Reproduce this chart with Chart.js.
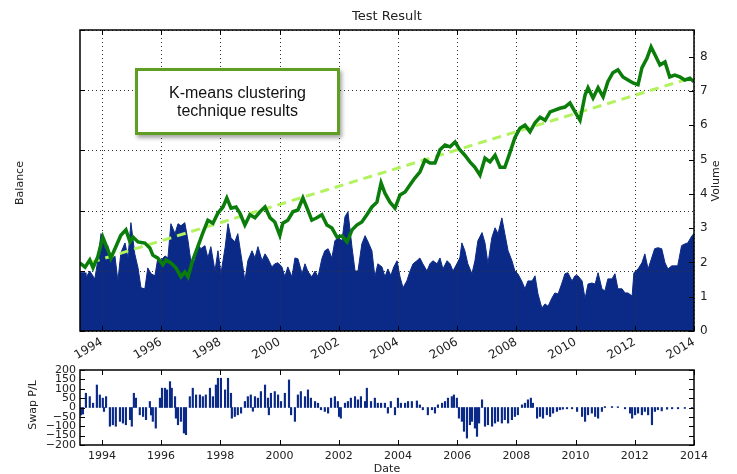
<!DOCTYPE html>
<html>
<head>
<meta charset="utf-8">
<script src="https://cdn.jsdelivr.net/npm/chart.js@4.4.1/dist/chart.umd.min.js"></script>
<style>
  body { margin: 0; background: #fff; overflow: hidden; width: 737px; height: 474px; position: relative; }
  #wrapMain { position: absolute; left: 0; top: 0; width: 737px; height: 360px; }
  #wrapSwap { position: absolute; left: 0; top: 355px; width: 737px; height: 125px; }
  #note {
    position: absolute; left: 135px; top: 68px; width: 199px; height: 61px;
    border: 3px solid #5f9e22; background: #fff;
    box-shadow: 2px 3px 4px rgba(0,0,0,0.35);
    font: 16px "Liberation Sans", Arial, sans-serif; color: #111;
    text-align: center; line-height: 18px;
    display: flex; align-items: center; justify-content: center;
  }
</style>
</head>
<body>
<div id="wrapMain"><canvas id="chartMain" width="737" height="360"></canvas></div>
<div id="wrapSwap"><canvas id="chartSwap" width="737" height="125"></canvas></div>
<div id="note">K-means clustering<br>technique results</div>
<script>
// tick values
const yearTicks = [1994, 1996, 1998, 2000, 2002, 2004, 2006, 2008, 2010, 2012, 2014];
const balanceTicks = [0, 1, 2, 3, 4, 5];
const volumeTicks = [0, 1, 2, 3, 4, 5, 6, 7, 8];
const swapTicks = [-200, -150, -100, -50, 0, 50, 100, 150, 200];

// balance curve (decimal years)
const balanceDates = [1993.26,1993.43,1993.59,1993.70,1993.86,1994.03,1994.20,1994.30,1994.47,1994.64,1994.81,1994.95,
  1995.05,1995.22,1995.45,1995.62,1995.72,1995.89,1996.06,1996.16,1996.33,1996.50,1996.67,1996.80,1996.91,
  1997.07,1997.24,1997.41,1997.58,1997.75,1997.92,1998.09,1998.22,1998.36,1998.53,1998.66,1998.83,
  1999.00,1999.17,1999.34,1999.51,1999.68,1999.84,2000.01,2000.11,2000.28,2000.45,2000.62,2000.79,2000.93,
  2001.09,2001.26,2001.43,2001.60,2001.77,2001.94,2002.11,2002.28,2002.45,2002.61,2002.78,2002.95,
  2003.12,2003.29,2003.43,2003.56,2003.73,2003.90,2004.07,2004.24,2004.41,2004.57,2004.74,2004.91,
  2005.08,2005.25,2005.42,2005.59,2005.76,2005.93,2006.09,2006.26,2006.43,2006.60,2006.77,2006.94,
  2007.11,2007.28,2007.45,2007.61,2007.78,2007.95,2008.12,2008.29,2008.46,2008.63,2008.80,2008.97,
  2009.14,2009.30,2009.47,2009.64,2009.81,2009.98,2010.15,2010.32,2010.42,2010.59,2010.76,2010.93,
  2011.09,2011.26,2011.43,2011.60,2011.77,2011.94,2012.11,2012.24,2012.41,2012.55,2012.69,2012.85,
  2013.02,2013.18,2013.35,2013.52,2013.69,2013.86,2014.00];
const balanceValues = [1.13,1.06,1.18,1.05,1.23,1.56,1.35,1.21,1.40,1.59,1.68,1.48,
  1.56,1.48,1.46,1.38,1.26,1.21,1.10,1.18,1.13,1.05,0.90,0.98,0.90,
  1.18,1.40,1.63,1.84,1.79,1.96,2.06,2.21,2.04,2.06,1.96,1.76,
  1.93,1.88,1.98,2.06,1.88,1.81,1.59,1.79,1.84,1.98,2.01,2.21,2.04,
  1.84,1.88,1.93,1.76,1.71,1.56,1.58,1.48,1.68,1.76,1.81,1.93,
  2.06,2.14,2.46,2.29,2.14,2.04,2.26,2.31,2.43,2.54,2.64,2.84,
  2.79,2.79,3.01,3.09,3.06,3.14,3.01,2.92,2.81,2.72,2.59,2.87,
  2.81,2.92,2.72,2.72,2.96,3.21,3.37,3.42,3.31,3.46,3.55,3.50,
  3.64,3.67,3.70,3.72,3.79,3.64,3.50,3.92,4.04,3.87,4.04,3.89,
  4.14,4.29,4.34,4.22,4.17,4.12,4.09,4.37,4.53,4.72,4.58,4.42,
  4.47,4.22,4.25,4.22,4.17,4.20,4.14];

// linear trend of the balance
const trendDates = [1993.63, 2013.88];
const trendValues = [1.14, 4.20];

// volume (right axis)
const volumeDates = [1993.26,1993.43,1993.46,1993.59,1993.76,1993.86,1993.97,1994.10,1994.20,1994.30,1994.44,1994.54,
  1994.64,1994.78,1994.88,1994.98,1995.11,1995.22,1995.32,1995.45,1995.55,1995.66,1995.79,1995.89,1995.99,
  1996.13,1996.23,1996.33,1996.47,1996.57,1996.67,1996.80,1996.91,1997.01,1997.14,1997.24,1997.34,1997.48,
  1997.58,1997.68,1997.82,1997.92,1998.02,1998.16,1998.26,1998.36,1998.49,1998.59,1998.73,1998.83,1998.93,
  1999.07,1999.17,1999.27,1999.41,1999.51,1999.61,1999.74,1999.84,1999.95,2000.08,2000.18,2000.28,2000.42,
  2000.52,2000.62,2000.76,2000.86,2000.96,2001.09,2001.20,2001.30,2001.43,2001.53,2001.64,2001.77,2001.87,
  2001.97,2002.11,2002.21,2002.31,2002.45,2002.55,2002.65,2002.78,2002.89,2002.99,2003.12,2003.22,2003.32,
  2003.46,2003.56,2003.66,2003.76,2003.86,2003.97,2004.07,2004.17,2004.30,2004.41,2004.51,2004.64,2004.74,
  2004.84,2004.98,2005.08,2005.18,2005.32,2005.42,2005.52,2005.66,2005.76,2005.86,2005.99,2006.09,2006.16,
  2006.26,2006.36,2006.50,2006.60,2006.70,2006.84,2006.94,2007.04,2007.17,2007.28,2007.38,2007.51,2007.61,
  2007.72,2007.85,2007.95,2008.05,2008.18,2008.29,2008.39,2008.53,2008.63,2008.73,2008.86,2008.97,2009.07,
  2009.20,2009.30,2009.41,2009.54,2009.64,2009.74,2009.88,2009.98,2010.08,2010.22,2010.32,2010.42,2010.55,
  2010.66,2010.76,2010.89,2010.99,2011.09,2011.23,2011.33,2011.43,2011.57,2011.67,2011.77,2011.91,2011.97,
  2012.11,2012.24,2012.34,2012.45,2012.57,2012.67,2012.78,2012.91,2013.02,2013.12,2013.25,2013.35,2013.45,
  2013.58,2013.69,2013.79,2013.93,2014.00];
const volumeValues = [1.70,1.70,1.55,1.75,1.52,2.05,2.84,2.43,2.49,2.05,2.19,1.46,
  2.28,2.57,2.13,3.16,2.25,1.84,1.26,1.23,1.84,1.67,1.61,2.13,2.05,
  2.19,2.13,3.13,2.84,3.13,3.07,3.16,2.63,1.99,2.05,2.54,2.40,2.49,
  2.13,2.46,1.75,2.34,1.67,2.43,3.13,2.72,2.60,2.84,2.05,1.46,2.05,
  2.34,2.13,2.46,2.05,2.25,2.11,1.87,1.96,1.99,1.87,1.58,1.87,1.58,
  2.13,2.11,1.67,1.96,1.73,1.58,1.75,1.58,2.11,2.34,2.40,2.13,2.63,
  2.72,2.63,3.33,3.48,2.43,1.75,1.75,2.54,2.78,2.60,2.34,1.58,1.96,
  1.87,1.58,1.81,1.62,1.87,2.05,1.58,1.26,1.46,1.75,1.96,2.05,2.13,
  1.96,1.75,1.96,2.05,1.96,2.13,1.81,2.05,1.96,1.75,1.96,2.13,2.57,
  2.34,1.96,1.67,2.05,2.63,2.87,2.57,1.96,2.72,3.01,2.84,3.30,2.84,
  2.34,2.05,1.75,1.67,1.46,1.23,1.46,1.46,1.61,1.08,0.67,0.79,0.72,
  0.96,1.11,1.08,1.40,1.67,1.70,1.46,1.61,1.61,1.46,0.94,1.37,1.40,
  1.37,1.70,1.23,1.17,1.52,1.52,1.67,1.23,1.23,1.11,1.11,1.02,1.70,
  1.81,1.99,2.25,1.81,2.13,2.40,2.43,2.40,1.99,1.81,1.90,1.90,1.90,
  2.49,2.54,2.57,2.78,2.84];

// swap P/L (lower panel)
const swapDates = [1993.29,1993.36,1993.46,1993.59,1993.70,1993.83,1993.93,1994.03,1994.07,1994.14,1994.27,1994.37,
  1994.47,1994.61,1994.71,1994.81,1994.95,1995.01,1995.08,1995.15,1995.28,1995.39,1995.49,1995.62,1995.66,
  1995.72,1995.82,1995.96,1996.03,1996.13,1996.20,1996.30,1996.36,1996.47,1996.50,1996.57,1996.67,1996.77,
  1996.84,1996.97,1997.07,1997.18,1997.31,1997.41,1997.51,1997.65,1997.75,1997.85,1997.92,1998.02,1998.16,
  1998.26,1998.36,1998.39,1998.49,1998.59,1998.70,1998.83,1998.93,1999.03,1999.10,1999.17,1999.27,1999.37,
  1999.51,1999.61,1999.64,1999.71,1999.84,1999.95,2000.05,2000.18,2000.32,2000.39,2000.52,2000.62,2000.72,
  2000.86,2000.96,2001.06,2001.20,2001.30,2001.40,2001.53,2001.64,2001.74,2001.87,2001.97,2002.01,2002.07,
  2002.21,2002.31,2002.41,2002.55,2002.65,2002.75,2002.89,2002.95,2003.09,2003.22,2003.32,2003.43,2003.56,
  2003.66,2003.76,2003.90,2004.00,2004.10,2004.24,2004.34,2004.47,2004.64,2004.74,2004.84,2005.01,2005.15,
  2005.25,2005.35,2005.49,2005.59,2005.69,2005.82,2005.89,2005.99,2006.06,2006.16,2006.23,2006.33,2006.43,
  2006.50,2006.60,2006.67,2006.74,2006.84,2006.94,2007.04,2007.18,2007.28,2007.38,2007.51,2007.61,2007.72,
  2007.85,2007.95,2008.05,2008.19,2008.29,2008.39,2008.49,2008.56,2008.70,2008.80,2008.90,2009.03,2009.14,
  2009.24,2009.37,2009.47,2009.57,2009.71,2009.88,2010.05,2010.22,2010.32,2010.42,2010.55,2010.66,2010.76,
  2010.89,2010.99,2011.23,2011.43,2011.67,2011.84,2011.91,2012.01,2012.11,2012.24,2012.34,2012.45,2012.58,
  2012.68,2012.78,2012.91,2013.09,2013.26,2013.46,2013.69,2013.93];
const swapValues = [-40,-35,76,58,23,120,67,50,-21,58,-100,-92,
  -100,-74,-83,-92,-65,-100,76,50,-39,-48,-65,32,-40,
  -74,-110,50,103,103,94,138,103,58,-57,-92,-74,-136,
  -145,58,103,67,67,58,67,103,58,120,156,156,94,
  156,76,-57,-48,-39,-30,32,58,67,-20,58,50,85,
  120,50,-39,76,85,67,32,76,147,-39,-74,67,85,
  58,94,50,32,23,-12,-21,-30,50,58,32,-48,-57,
  23,32,50,58,41,58,32,103,32,50,23,23,23,
  -30,32,-39,50,23,23,32,32,35,14,-12,-39,-12,
  -30,14,23,32,50,58,67,50,-57,-74,-127,-163,-92,
  -74,-110,-154,-83,41,-100,-92,-100,-83,-74,-83,-65,-83,
  -65,-48,-39,14,23,41,50,23,-57,-48,-57,-39,-48,
  -30,-21,-12,-9,-7,-7,-21,-48,-74,-39,-30,-48,-57,
  -21,5,5,4,-7,-30,-57,-39,-30,-39,-21,-39,-92,
  -21,-12,-18,-9,-7,-7,-5,-5];

const FONT = 'DejaVu Sans';
const INK = '#222';
const NAVY = '#0b2a87';

function pts(xs, ys) {
  return xs.map((x, i) => ({ x: x, y: ys[i] }));
}
function fixTicks(list) {
  return scale => { scale.ticks = list.map(v => ({ value: v })); };
}

function vText(ctx, txt, x, y, size) {
  ctx.save();
  ctx.translate(x, y);
  ctx.rotate(-Math.PI / 2);
  ctx.font = size + 'px "' + FONT + '"';
  ctx.fillStyle = INK;
  ctx.textAlign = 'center';
  ctx.textBaseline = 'middle';
  ctx.fillText(txt, 0, 0);
  ctx.restore();
}

// inward tick marks plus the box round the axes
function frameAndTicks(chart, leftId, leftTicks, rightId, rightTicks) {
  const ctx = chart.ctx, a = chart.chartArea, s = chart.scales;
  const tl = 5;
  ctx.save();
  ctx.strokeStyle = '#000';
  ctx.lineWidth = 1;
  ctx.beginPath();
  yearTicks.forEach(v => {
    const px = Math.round(s.x.getPixelForValue(v)) + 0.5;
    ctx.moveTo(px, a.bottom); ctx.lineTo(px, a.bottom - tl);
    ctx.moveTo(px, a.top); ctx.lineTo(px, a.top + tl);
  });
  leftTicks.forEach(v => {
    const py = Math.round(s[leftId].getPixelForValue(v)) + 0.5;
    ctx.moveTo(a.left, py); ctx.lineTo(a.left + tl, py);
  });
  rightTicks.forEach(v => {
    const py = Math.round(s[rightId].getPixelForValue(v)) + 0.5;
    ctx.moveTo(a.right, py); ctx.lineTo(a.right - tl, py);
  });
  ctx.stroke();
  ctx.lineWidth = 1.5;
  ctx.strokeRect(a.left, a.top, a.right - a.left, a.bottom - a.top);
  ctx.restore();
}

const mainDecor = {
  id: 'mainDecor',
  afterDatasetDraw(chart, args) {
    if (args.index !== 2) return;
    // dotted grid drawn over the volume area
    const ctx = chart.ctx, a = chart.chartArea, s = chart.scales;
    ctx.save();
    ctx.strokeStyle = '#333';
    ctx.lineWidth = 1;
    ctx.setLineDash([1, 3]);
    ctx.beginPath();
    yearTicks.forEach(v => {
      const px = Math.round(s.x.getPixelForValue(v)) + 0.5;
      ctx.moveTo(px, a.top); ctx.lineTo(px, a.bottom);
    });
    balanceTicks.forEach(v => {
      const py = Math.round(s.yb.getPixelForValue(v)) + 0.5;
      ctx.moveTo(a.left, py); ctx.lineTo(a.right, py);
    });
    ctx.stroke();
    ctx.restore();
  },
  afterDraw(chart) {
    const ctx = chart.ctx, a = chart.chartArea;
    frameAndTicks(chart, 'yb', balanceTicks, 'yv', volumeTicks);
    ctx.save();
    ctx.font = '13px "' + FONT + '"';
    ctx.fillStyle = INK;
    ctx.textAlign = 'center';
    ctx.textBaseline = 'middle';
    ctx.fillText('Test Result', (a.left + a.right) / 2, 17);
    ctx.restore();
    vText(ctx, 'Balance', 20, 183, 11);
    vText(ctx, 'Volume', 716, 181, 11);
  }
};

const swapDecor = {
  id: 'swapDecor',
  afterDraw(chart) {
    frameAndTicks(chart, 'y', swapTicks, 'y', swapTicks);
    vText(chart.ctx, 'Swap P/L', 33, 50, 11);
  }
};

new Chart(document.getElementById('chartMain'), {
  type: 'line',
  data: {
    datasets: [
      {
        label: 'Balance',
        data: pts(balanceDates, balanceValues),
        yAxisID: 'yb',
        borderColor: '#0a7d0a',
        borderWidth: 3.5,
        pointRadius: 0,
        tension: 0
      },
      {
        label: 'Trend',
        data: pts(trendDates, trendValues),
        yAxisID: 'yb',
        borderColor: '#b2f25e',
        borderWidth: 3,
        borderDash: [9, 6],
        pointRadius: 0
      },
      {
        label: 'Volume',
        data: pts(volumeDates, volumeValues),
        yAxisID: 'yv',
        borderColor: NAVY,
        backgroundColor: NAVY,
        borderWidth: 1,
        pointRadius: 0,
        fill: 'origin',
        tension: 0
      }
    ]
  },
  options: {
    responsive: false,
    animation: false,
    layout: { padding: { top: 30 } },
    plugins: { legend: { display: false }, tooltip: { enabled: false } },
    scales: {
      x: {
        type: 'linear',
        min: 1993.26,
        max: 2014,
        afterBuildTicks: fixTicks(yearTicks),
        afterFit: s => { s.height = 29; },
        grid: { display: false, drawTicks: false },
        border: { display: false },
        ticks: {
          autoSkip: false,
          minRotation: 30,
          maxRotation: 30,
          padding: 4,
          color: INK,
          font: { family: FONT, size: 12 },
          callback: v => String(v)
        }
      },
      yb: {
        position: 'left',
        min: 0,
        max: 5,
        afterBuildTicks: fixTicks(balanceTicks),
        afterFit: s => { s.width = 80; },
        grid: { display: false, drawTicks: false },
        border: { display: false },
        ticks: { display: false }
      },
      yv: {
        position: 'right',
        min: 0,
        max: 8.78,
        afterBuildTicks: fixTicks(volumeTicks),
        afterFit: s => { s.width = 43; },
        grid: { display: false, drawTicks: false },
        border: { display: false },
        ticks: { padding: 6, color: INK, font: { family: FONT, size: 12 } }
      }
    }
  },
  plugins: [mainDecor]
});

new Chart(document.getElementById('chartSwap'), {
  type: 'bar',
  data: {
    datasets: [{
      label: 'Swap P/L',
      data: pts(swapDates, swapValues),
      backgroundColor: NAVY,
      borderWidth: 0,
      barThickness: 1.5
    }]
  },
  options: {
    responsive: false,
    animation: false,
    layout: { padding: { top: 15, right: 43 } },
    plugins: { legend: { display: false }, tooltip: { enabled: false } },
    scales: {
      x: {
        type: 'linear',
        offset: false,
        min: 1993.26,
        max: 2014,
        afterBuildTicks: fixTicks(yearTicks),
        afterFit: s => { s.height = 35; },
        grid: { display: false, drawTicks: false, offset: false },
        border: { display: false },
        ticks: {
          autoSkip: false,
          maxRotation: 0,
          padding: 5,
          color: INK,
          font: { family: FONT, size: 11 },
          callback: v => String(v)
        },
        title: { display: true, text: 'Date', color: INK, font: { family: FONT, size: 11 }, padding: { top: 2, bottom: 4 } }
      },
      y: {
        min: -200,
        max: 200,
        afterBuildTicks: fixTicks(swapTicks),
        afterFit: s => { s.width = 80; },
        grid: { display: false, drawTicks: false },
        border: { display: false },
        ticks: {
          autoSkip: false,
          padding: 4,
          color: INK,
          font: { family: FONT, size: 11 },
          callback: v => (v < 0 ? '\u2212' + Math.abs(v) : String(v))
        }
      }
    }
  },
  plugins: [swapDecor]
});
</script>
</body>
</html>
